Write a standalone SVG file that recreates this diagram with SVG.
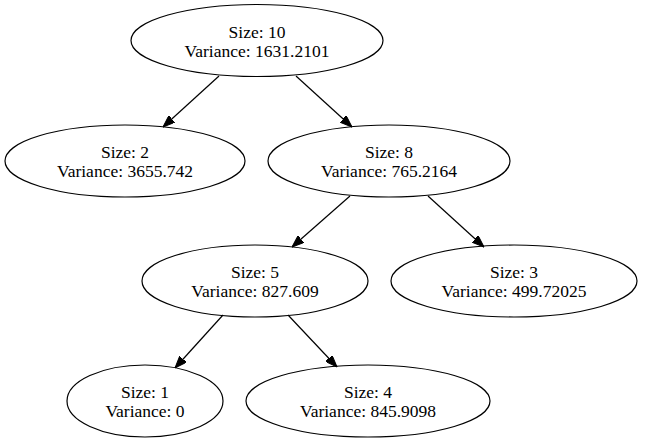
<svg xmlns="http://www.w3.org/2000/svg" width="655" height="443" viewBox="0 0 655 443">
<style>
.n ellipse{fill:none;stroke:#000;stroke-width:1.2}
.n text{text-anchor:middle;fill:#000;font-family:"Liberation Serif",serif;font-size:17.5px}
.e line{stroke:#000;stroke-width:1.2;marker-end:url(#ah)}
</style>
<defs>
<marker id="ah" viewBox="0 0 12 9" refX="12" refY="4.5" markerWidth="12" markerHeight="9" markerUnits="userSpaceOnUse" orient="auto">
<path d="M0,0 L12,4.5 L0,9 Z" fill="#000" stroke="#000" stroke-width="1"/>
</marker>
</defs>
<rect width="655" height="443" fill="#fff"/>
<g id="edges" class="e">
<line x1="219" y1="76" x2="163" y2="127"/>
<line x1="296" y1="76" x2="352" y2="127"/>
<line x1="350" y1="196" x2="292" y2="247"/>
<line x1="428" y1="196" x2="484" y2="247"/>
<line x1="223" y1="315" x2="175" y2="368"/>
<line x1="288" y1="315" x2="337" y2="367"/>
</g>
<g id="n10" class="n"><ellipse cx="257" cy="40.5" rx="126" ry="36"/><text x="257" y="38">Size: 10</text><text x="257" y="57">Variance: 1631.2101</text></g>
<g id="n2" class="n"><ellipse cx="125" cy="161" rx="120" ry="36"/><text x="125" y="158.3">Size: 2</text><text x="125" y="177.3">Variance: 3655.742</text></g>
<g id="n8" class="n"><ellipse cx="389" cy="161" rx="121" ry="36"/><text x="389" y="158.3">Size: 8</text><text x="389" y="177.3">Variance: 765.2164</text></g>
<g id="n5" class="n"><ellipse cx="255" cy="281" rx="113" ry="36"/><text x="255" y="278.3">Size: 5</text><text x="255" y="297.3">Variance: 827.609</text></g>
<g id="n3" class="n"><ellipse cx="514" cy="281" rx="123" ry="36"/><text x="514" y="278.3">Size: 3</text><text x="514" y="297.3">Variance: 499.72025</text></g>
<g id="n1" class="n"><ellipse cx="145" cy="401" rx="78" ry="36"/><text x="145" y="398.3">Size: 1</text><text x="145" y="417.3">Variance: 0</text></g>
<g id="n4" class="n"><ellipse cx="368" cy="401" rx="122" ry="36"/><text x="368" y="398.3">Size: 4</text><text x="368" y="417.3">Variance: 845.9098</text></g>
</svg>
